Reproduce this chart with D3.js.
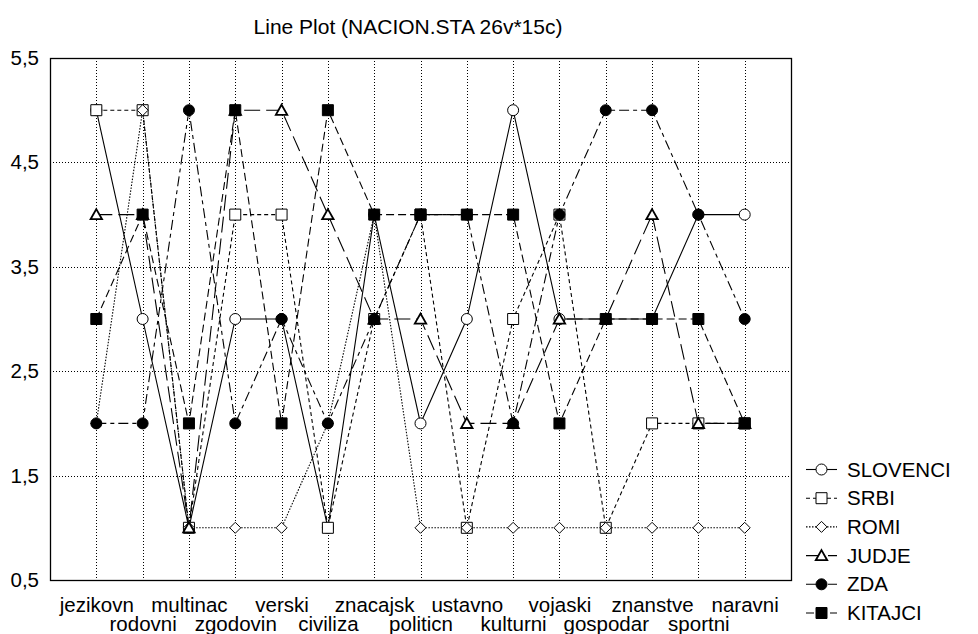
<!DOCTYPE html>
<html>
<head>
<meta charset="utf-8">
<script src="https://cdn.jsdelivr.net/npm/d3@7"></script>
<style>
  html, body { margin: 0; padding: 0; background: #fff; }
  svg { display: block; }
  text { font-family: Arial, "Liberation Sans", sans-serif; fill: #000; }
</style>
</head>
<body>
<svg id="chart" width="978" height="634"></svg>
<script>
const title = "Line Plot (NACION.STA 26v*15c)";
const categories = ["jezikovn","rodovni","multinac","zgodovin","verski","civiliza","znacajsk","politicn","ustavno","kulturni","vojaski","gospodar","znanstve","sportni","naravni"];
const yTicks = [0.5, 1.5, 2.5, 3.5, 4.5, 5.5];
const seriesNames = ["SLOVENCI","SRBI","ROMI","JUDJE","ZDA","KITAJCI"];
const slovenci = [5,3,1,3,3,1,4,2,3,5,3,3,3,4,4];
const srbi     = [5,5,1,4,4,1,3,4,1,3,4,1,2,2,2];
const romi     = [2,5,1,1,1,2,4,1,1,1,1,1,1,1,1];
const judje    = [4,4,1,5,5,4,3,3,2,2,3,3,4,2,2];
const zda      = [2,2,5,2,3,2,3,4,4,2,4,5,5,4,3];
const kitajci  = [3,4,2,5,2,5,4,4,4,4,2,3,3,3,2];

const seriesValues = [slovenci, srbi, romi, judje, zda, kitajci];
const styles = [
  {dash: null,        marker: "circle",   fill: "#fff"},
  {dash: "4,3",       marker: "square",   fill: "#fff"},
  {dash: "1.5,1.5",   marker: "diamond",  fill: "#fff"},
  {dash: "16,6",      marker: "triangle", fill: "#fff"},
  {dash: "10,4,4,4",  marker: "circle",   fill: "#000"},
  {dash: "8,4",       marker: "square",   fill: "#000"}
];

const svg = d3.select("#chart");
const L = 50, R = 791, T = 58, B = 580;
const FONT = "20.5px";

const x = d3.scalePoint().domain(categories).range([L, R]).padding(1);
const y = d3.scaleLinear().domain([0.5, 5.5]).range([B, T]);

// title
svg.append("text").attr("x", 408).attr("y", 34).attr("text-anchor", "middle")
  .style("font-size", "21px").text(title);

// gridlines
const grid = svg.append("g").attr("stroke", "#000").attr("stroke-width", 1)
  .attr("stroke-dasharray", "1,2").attr("shape-rendering", "crispEdges");
grid.selectAll("line.v").data(categories).enter().append("line")
  .attr("x1", d => Math.round(x(d)) + 0.5).attr("x2", d => Math.round(x(d)) + 0.5)
  .attr("y1", T).attr("y2", B);
grid.selectAll("line.h").data(yTicks.slice(1, -1)).enter().append("line")
  .attr("x1", L).attr("x2", R)
  .attr("y1", d => Math.round(y(d)) + 0.5).attr("y2", d => Math.round(y(d)) + 0.5);

// frame
svg.append("rect").attr("x", L + 0.5).attr("y", T + 0.5).attr("width", R - L).attr("height", B - T)
  .attr("fill", "none").attr("stroke", "#000").attr("stroke-width", 1.3);

// y axis
const yAxis = svg.append("g").attr("transform", `translate(${L},0)`)
  .call(d3.axisLeft(y).tickValues(yTicks).tickSize(0).tickPadding(11)
    .tickFormat(d => d3.format(".1f")(d).replace(".", ",")));
yAxis.select(".domain").remove();
yAxis.selectAll("text").style("font-size", FONT).style("font-family", "Arial, 'Liberation Sans', sans-serif");

// x axis
const xAxis = svg.append("g").attr("transform", `translate(0,${B})`)
  .call(d3.axisBottom(x).tickSize(0).tickPadding(0));
xAxis.select(".domain").remove();
xAxis.selectAll("text").style("font-size", FONT).style("font-family", "Arial, 'Liberation Sans', sans-serif")
  .attr("dy", null)
  .attr("y", (d, i) => i % 2 === 0 ? 32 : 51);

function markerPath(type, size) {
  const s = size;
  if (type === "square") return `M${-s/2},${-s/2}h${s}v${s}h${-s}Z`;
  if (type === "diamond") return `M0,${-s/2}L${s/2},0L0,${s/2}L${-s/2},0Z`;
  if (type === "triangle") return `M0,${-s*0.5}L${s*0.52},${s*0.42}L${-s*0.52},${s*0.42}Z`;
  return null;
}

function drawMarker(g, type, fill, cx, cy) {
  if (type === "circle") {
    g.append("circle").attr("cx", cx).attr("cy", cy).attr("r", 5.5)
      .attr("fill", fill).attr("stroke", "#000").attr("stroke-width", 1);
  } else {
    g.append("path").attr("d", markerPath(type, 11))
      .attr("transform", `translate(${cx},${cy})`)
      .attr("fill", fill).attr("stroke", "#000")
      .attr("stroke-width", type === "triangle" ? 1.8 : 1);
  }
}

const line = d3.line().x((d, i) => x(categories[i])).y(d => y(d));

seriesValues.forEach((vals, si) => {
  const st = styles[si];
  const g = svg.append("g");
  g.append("path").datum(vals).attr("d", line).attr("fill", "none")
    .attr("stroke", "#000").attr("stroke-width", 1.1)
    .attr("stroke-dasharray", st.dash);
  vals.forEach((v, i) => drawMarker(g, st.marker, st.fill, x(categories[i]), y(v)));
});

// legend
const leg = svg.append("g");
seriesNames.forEach((name, i) => {
  const ly = 469.5 + i * 28.7;
  const st = styles[i];
  const g = leg.append("g");
  g.append("line").attr("x1", 806).attr("x2", 837).attr("y1", ly).attr("y2", ly)
    .attr("stroke", "#000").attr("stroke-width", 1.1).attr("stroke-dasharray", st.dash);
  drawMarker(g, st.marker, st.fill, 821.5, ly);
  g.append("text").attr("x", 847).attr("y", ly).attr("dy", "0.35em")
    .style("font-size", FONT).text(name);
});
</script>
</body>
</html>
